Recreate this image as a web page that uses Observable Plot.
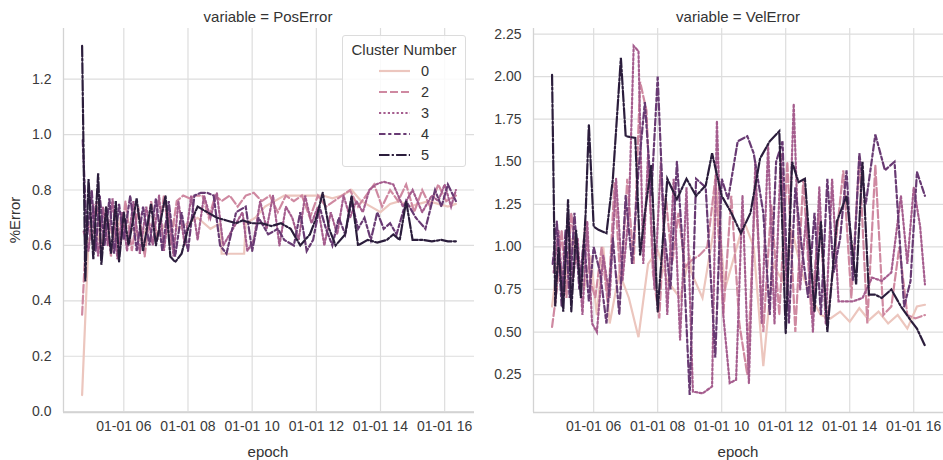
<!DOCTYPE html>
<html><head><meta charset="utf-8">
<script src="https://cdn.jsdelivr.net/npm/d3@7"></script>
<script src="https://cdn.jsdelivr.net/npm/@observablehq/plot@0.6"></script>
<style>
body{margin:0;background:#fff;font-family:"Liberation Sans",Arial,sans-serif;color:#333;}
#wrap{position:relative;width:943px;height:460px;overflow:hidden;}
.panel{position:absolute;top:0;}
.txt{position:absolute;white-space:nowrap;font-size:15px;color:#333;}
#legend{position:absolute;left:342px;top:35px;width:122px;height:130px;border:1px solid #dcdcdc;border-radius:3px;background:rgba(255,255,255,0.85);}
</style></head><body><div id="wrap"></div>
<script>
// ---- data (hours since midnight, 01-01) ----
const clusters = ["0", "2", "3", "4", "5"];

const t0 = [4.70, 4.90, 5.10, 5.30, 5.50, 5.70, 5.90, 6.10, 6.30, 6.50, 6.80, 7.10, 7.40, 7.70, 8.00, 8.30, 8.70, 9.00, 9.05, 9.40, 9.75, 9.80, 10.10, 10.40, 10.70, 11.00, 11.30, 11.60, 11.90, 12.20, 12.50, 12.80, 13.10, 13.40, 13.70, 14.00, 14.30, 14.60, 14.90, 15.20, 15.50, 15.80, 16.10, 16.35];
const pos0 = [0.06, 0.62, 0.66, 0.60, 0.68, 0.62, 0.70, 0.64, 0.66, 0.62, 0.68, 0.64, 0.70, 0.66, 0.68, 0.70, 0.66, 0.68, 0.57, 0.57, 0.57, 0.68, 0.70, 0.74, 0.76, 0.78, 0.78, 0.78, 0.78, 0.78, 0.77, 0.78, 0.80, 0.76, 0.74, 0.72, 0.75, 0.76, 0.74, 0.75, 0.76, 0.75, 0.74, 0.75];
const vel0 = [0.65, 0.95, 0.80, 1.05, 0.90, 0.75, 0.95, 0.60, 1.00, 0.55, 0.85, 0.70, 0.47, 0.90, 0.98, 0.80, 0.70, 0.95, 0.85, 0.70, 1.10, 1.42, 0.75, 0.95, 1.15, 1.00, 0.30, 0.90, 0.80, 1.10, 0.85, 0.70, 0.60, 0.58, 0.62, 0.56, 0.64, 0.57, 0.62, 0.55, 0.60, 0.52, 0.65, 0.66];

const t2 = [4.70, 4.85, 5.00, 5.15, 5.30, 5.45, 5.60, 5.75, 5.90, 6.05, 6.25, 6.45, 6.65, 6.85, 7.05, 7.25, 7.45, 7.65, 7.85, 8.05, 8.25, 8.45, 8.65, 8.85, 9.05, 9.30, 9.55, 9.80, 10.05, 10.30, 10.55, 10.80, 11.05, 11.30, 11.55, 11.80, 12.05, 12.30, 12.55, 12.80, 13.05, 13.30, 13.55, 13.80, 14.05, 14.30, 14.55, 14.80, 15.05, 15.30, 15.55, 15.80, 16.05, 16.35];
const pos2 = [0.35, 0.70, 0.62, 0.76, 0.58, 0.74, 0.56, 0.72, 0.60, 0.76, 0.58, 0.74, 0.56, 0.76, 0.62, 0.78, 0.60, 0.76, 0.78, 0.77, 0.78, 0.78, 0.70, 0.78, 0.76, 0.78, 0.74, 0.78, 0.79, 0.76, 0.78, 0.72, 0.78, 0.76, 0.78, 0.70, 0.78, 0.74, 0.76, 0.78, 0.80, 0.74, 0.78, 0.82, 0.74, 0.80, 0.76, 0.82, 0.72, 0.80, 0.74, 0.82, 0.76, 0.78];
const vel2 = [0.53, 0.75, 1.10, 0.70, 1.20, 0.95, 0.85, 1.15, 0.80, 0.70, 1.00, 0.65, 1.38, 0.75, 1.40, 0.90, 1.97, 1.80, 0.85, 0.58, 1.30, 0.90, 1.20, 0.88, 0.92, 0.95, 1.00, 1.40, 0.60, 1.30, 0.55, 0.25, 1.35, 0.50, 1.25, 0.60, 1.50, 0.50, 1.40, 0.60, 1.20, 0.55, 1.00, 1.45, 0.70, 1.52, 0.55, 1.48, 0.60, 0.65, 1.00, 0.60, 0.58, 0.60];

const t3 = [4.75, 4.90, 5.05, 5.20, 5.35, 5.50, 5.65, 5.80, 5.95, 6.10, 6.30, 6.50, 6.70, 6.90, 7.10, 7.25, 7.40, 7.55, 7.70, 7.90, 8.10, 8.30, 8.50, 8.70, 8.90, 9.10, 9.40, 9.70, 9.85, 10.05, 10.25, 10.45, 10.65, 10.85, 11.05, 11.25, 11.45, 11.65, 11.85, 12.05, 12.25, 12.45, 12.65, 12.85, 13.05, 13.25, 13.45, 13.65, 13.85, 14.10, 14.40, 14.70, 15.00, 15.30, 15.60, 15.80, 16.00, 16.20, 16.35];
const pos3 = [0.65, 0.58, 0.75, 0.56, 0.74, 0.60, 0.77, 0.55, 0.72, 0.58, 0.76, 0.57, 0.74, 0.60, 0.78, 0.58, 0.72, 0.56, 0.76, 0.60, 0.78, 0.62, 0.78, 0.70, 0.79, 0.60, 0.66, 0.72, 0.58, 0.62, 0.76, 0.66, 0.78, 0.60, 0.74, 0.70, 0.62, 0.78, 0.68, 0.74, 0.60, 0.72, 0.64, 0.78, 0.70, 0.76, 0.72, 0.80, 0.82, 0.83, 0.82, 0.74, 0.80, 0.72, 0.78, 0.76, 0.82, 0.74, 0.80];
const vel3 = [0.85, 1.10, 0.70, 1.20, 0.80, 1.05, 0.60, 1.15, 0.55, 0.50, 0.95, 0.70, 1.40, 0.80, 1.20, 2.18, 2.15, 0.90, 1.55, 0.75, 1.50, 0.60, 1.40, 0.45, 1.35, 0.15, 0.14, 0.18, 1.74, 0.60, 0.20, 0.22, 1.30, 0.20, 1.50, 0.55, 1.60, 0.55, 1.55, 0.70, 1.84, 0.75, 1.20, 0.50, 1.35, 0.55, 1.40, 0.68, 0.68, 0.68, 0.70, 0.82, 0.80, 0.85, 1.30, 0.90, 1.35, 1.12, 0.78];

const t4 = [4.72, 4.85, 5.00, 5.12, 5.25, 5.40, 5.55, 5.70, 5.85, 6.00, 6.20, 6.40, 6.60, 6.80, 7.00, 7.20, 7.40, 7.60, 7.80, 8.00, 8.20, 8.40, 8.60, 8.80, 9.00, 9.20, 9.50, 9.80, 10.00, 10.20, 10.50, 10.80, 11.00, 11.30, 11.50, 11.70, 11.90, 12.10, 12.30, 12.50, 12.70, 12.90, 13.10, 13.30, 13.50, 13.70, 13.90, 14.10, 14.30, 14.50, 14.80, 15.10, 15.40, 15.70, 15.90, 16.10, 16.35];
const pos4 = [0.98, 0.62, 0.80, 0.58, 0.78, 0.60, 0.77, 0.57, 0.75, 0.62, 0.78, 0.58, 0.74, 0.60, 0.77, 0.58, 0.76, 0.56, 0.72, 0.58, 0.78, 0.79, 0.79, 0.78, 0.60, 0.57, 0.72, 0.74, 0.58, 0.70, 0.64, 0.66, 0.62, 0.60, 0.72, 0.58, 0.62, 0.74, 0.66, 0.60, 0.70, 0.64, 0.76, 0.66, 0.70, 0.62, 0.72, 0.66, 0.68, 0.64, 0.76, 0.70, 0.66, 0.80, 0.74, 0.82, 0.76];
const vel4 = [0.90, 1.15, 0.65, 1.10, 0.70, 1.20, 0.75, 1.05, 0.68, 1.00, 0.85, 0.55, 1.05, 0.60, 1.30, 0.90, 1.45, 1.85, 1.30, 2.00, 1.10, 0.75, 1.50, 0.95, 0.13, 1.40, 1.35, 0.35, 1.40, 1.28, 1.62, 1.65, 1.55, 1.20, 0.60, 1.50, 1.62, 0.55, 1.35, 1.00, 0.70, 1.20, 0.60, 1.40, 0.85, 1.05, 1.45, 0.80, 1.55, 1.25, 1.66, 1.45, 1.50, 0.65, 0.80, 1.44, 1.30];

const t5 = [4.70, 4.80, 4.90, 5.05, 5.20, 5.30, 5.45, 5.60, 5.75, 5.85, 6.00, 6.15, 6.40, 6.60, 6.85, 7.00, 7.30, 7.45, 7.60, 7.80, 8.00, 8.30, 8.60, 8.90, 9.20, 9.50, 9.70, 10.00, 10.30, 10.60, 10.90, 11.20, 11.50, 11.80, 12.00, 12.20, 12.40, 12.60, 12.90, 13.10, 13.30, 13.60, 13.90, 14.20, 14.40, 14.60, 14.80, 15.00, 15.30, 15.60, 15.90, 16.10, 16.35];
const pos5 = [1.32, 0.47, 0.84, 0.55, 0.86, 0.53, 0.74, 0.57, 0.76, 0.54, 0.72, 0.60, 0.77, 0.58, 0.75, 0.60, 0.78, 0.56, 0.54, 0.57, 0.66, 0.74, 0.72, 0.70, 0.69, 0.68, 0.69, 0.68, 0.68, 0.67, 0.68, 0.66, 0.60, 0.64, 0.70, 0.79, 0.66, 0.60, 0.64, 0.78, 0.60, 0.62, 0.61, 0.62, 0.64, 0.62, 0.76, 0.62, 0.62, 0.615, 0.62, 0.615, 0.615];
const vel5 = [2.01, 0.65, 1.00, 0.62, 1.28, 0.62, 1.10, 0.70, 1.20, 1.72, 1.12, 1.10, 1.08, 1.40, 2.11, 1.65, 1.64, 0.95, 1.20, 1.48, 0.62, 1.40, 1.28, 1.40, 1.30, 1.36, 1.55, 1.30, 1.20, 1.08, 1.20, 1.52, 1.62, 1.68, 0.49, 1.50, 1.38, 1.40, 0.62, 1.15, 0.50, 1.15, 1.30, 0.78, 1.50, 0.72, 0.72, 0.70, 0.75, 0.65, 0.57, 0.52, 0.42];

const xTickHours = [6, 8, 10, 12, 14, 16];
const posTicks = [0.0, 0.2, 0.4, 0.6, 0.8, 1.0, 1.2];
const velTicks = [0.25, 0.50, 0.75, 1.00, 1.25, 1.50, 1.75, 2.00, 2.25];

// ---- styles ----
const colors = ["#ecc6be", "#cf89a1", "#a55d8e", "#683a73", "#2b1d3c"];
const dashes = [null, "8,3", "2.2,2.2", "6.5,2.7,3.2,2.7", "10.5,2.2,2.2,2.2"];

const base = Date.UTC(2000, 0, 1);
const toDate = h => new Date(base + h * 3600000);
const times = [t0, t2, t3, t4, t5];
const posVals = [pos0, pos2, pos3, pos4, pos5];
const velVals = [vel0, vel2, vel3, vel4, vel5];
const series = clusters.map((c, i) => times[i].map((h, j) => ({t: toDate(h), PosError: posVals[i][j], VelError: velVals[i][j]})));

const xDomain = [toDate(4.12), toDate(16.93)];
const xTicks = xTickHours.map(toDate);
const fmtX = d3.utcFormat("%m-%d %H");
const gridColor = "#dddddd";

function panel(key, yDomain, yTicks, yFmt, width, marginRight) {
  const marks = [
    Plot.ruleX(xTicks, {stroke: gridColor, strokeWidth: 1.2}),
    Plot.ruleY(yTicks, {stroke: gridColor, strokeWidth: 1.2}),
    Plot.ruleX([xDomain[0]], {stroke: "#d3d3d3", strokeWidth: 1.3}),
    Plot.ruleY([yDomain[0]], {stroke: "#d3d3d3", strokeWidth: 1.3})
  ];
  series.forEach((rows, i) => {
    const opts = {x: "t", y: key, stroke: colors[i], strokeWidth: 2.2, strokeLinejoin: "miter", strokeMiterlimit: 4};
    if (dashes[i]) opts.strokeDasharray = dashes[i];
    marks.push(Plot.line(rows, opts));
  });
  return Plot.plot({
    width, height: 460,
    marginLeft: 63, marginRight, marginTop: 28, marginBottom: 48,
    style: {fontFamily: '"Liberation Sans", Arial, sans-serif', fontSize: "14px", color: "#3a3a3a", background: "transparent"},
    x: {type: "utc", domain: xDomain, ticks: xTicks, tickFormat: fmtX, tickSize: 0, tickPadding: 9, label: null},
    y: {domain: yDomain, ticks: yTicks, tickFormat: yFmt, tickSize: 0, tickPadding: 12, label: null},
    marks
  });
}

const wrap = document.getElementById("wrap");
function add(el, left) { el.classList.add("panel"); el.style.left = left + "px"; wrap.appendChild(el); }
add(panel("PosError", [-0.003, 1.383], posTicks, d3.format(".1f"), 480, 6), 0);
add(panel("VelError", [0.0275, 2.2825], velTicks, d3.format(".2f"), 473, 0), 470);

function txt(s, x, y, extra) {
  const d = document.createElement("div");
  d.className = "txt"; d.textContent = s;
  d.style.left = x + "px"; d.style.top = y + "px";
  d.style.transform = "translate(-50%,-50%)" + (extra || "");
  wrap.appendChild(d);
}
txt("variable = PosError", 268, 16);
txt("variable = VelError", 738, 16);
txt("epoch", 268, 451);
txt("epoch", 738, 451);
txt("%Error", 14, 220, " rotate(-90deg)");

// legend
const lg = document.createElement("div");
lg.id = "legend";
wrap.appendChild(lg);
const lsvg = d3.select(lg).append("svg").attr("width", 122).attr("height", 130).style("position", "absolute").style("left", 0).style("top", 0);
lsvg.append("text").attr("x", 61).attr("y", 19).attr("text-anchor", "middle").attr("font-size", 15).attr("fill", "#333").attr("font-family", '"Liberation Sans", Arial, sans-serif').text("Cluster Number");
clusters.forEach((c, i) => {
  const y = 35 + i * 21;
  const ln = lsvg.append("line").attr("x1", 36).attr("x2", 67).attr("y1", y).attr("y2", y).attr("stroke", colors[i]).attr("stroke-width", 2.2);
  if (dashes[i]) ln.attr("stroke-dasharray", dashes[i]);
  lsvg.append("text").attr("x", 82).attr("y", y + 5).attr("text-anchor", "middle").attr("font-size", 14.5).attr("fill", "#333").attr("font-family", '"Liberation Sans", Arial, sans-serif').text(c);
});
</script></body></html>
